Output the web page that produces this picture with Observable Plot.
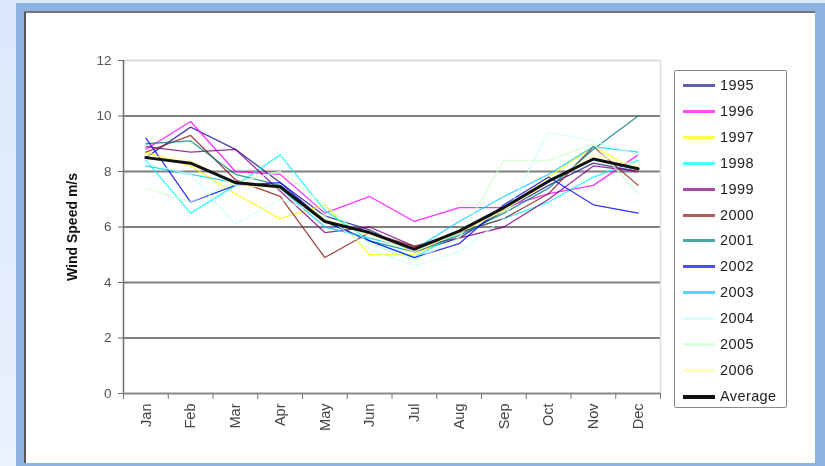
<!DOCTYPE html>
<html>
<head>
<meta charset="utf-8">
<script src="https://cdn.jsdelivr.net/npm/d3@7"></script>
<script src="https://cdn.jsdelivr.net/npm/@observablehq/plot@0.6"></script>
<style>
  html, body { margin: 0; padding: 0; }
  body { width: 825px; height: 466px; overflow: hidden; position: relative;
         background: linear-gradient(#dbe7fb, #e9f2fd); font-family: "Liberation Sans", Arial, sans-serif; }
  #frame { position: absolute; left: 16px; top: 3px; width: 809px; height: 463px; background: #8db3e2; }
  #card { position: absolute; left: 24px; top: 11px; width: 791px; height: 452px; background: #fff;
          border-left: 2px solid #555; border-top: 2px solid #777; box-sizing: border-box; }
  #chart { position: absolute; left: 24px; top: 11px; filter: blur(0.35px); }
  #legend { position: absolute; left: 674px; top: 70px; width: 113px; height: 338px; filter: blur(0.3px);
            border: 1px solid #8a8a8a; border-radius: 2px; box-sizing: border-box; background: #fff; }
  .item { position: absolute; left: 0; height: 16px; width: 112px; }
  .sw { position: absolute; left: 8px; top: 7px; width: 32px; height: 3px; }
  .lb { position: absolute; left: 45px; top: 0; font-size: 14.5px; line-height: 16px; color: #222; letter-spacing: 0.4px; }
</style>
</head>
<body>
<div id="frame"></div>
<div id="card"></div>
<div id="chart"></div>
<div id="legend"></div>
<script>
const months = ["Jan","Feb","Mar","Apr","May","Jun","Jul","Aug","Sep","Oct","Nov","Dec"];
const yTicks = [0, 2, 4, 6, 8, 10, 12];
const years = ["1995","1996","1997","1998","1999","2000","2001","2002","2003","2004","2005","2006"];
const colors = ["#1a1a8c","#ff00ff","#ffff00","#00ffff","#800080","#8c1a1a","#008080","#0000ff","#00ccff","#ccffff","#ccffcc","#ffff99"];

const s1995 = [8.5, 9.6, 8.8, 7.6, 6.4, 5.9, 5.1, 5.6, 6.6, 7.5, 8.3, 8.0];
const s1996 = [8.8, 9.8, 8.0, 7.9, 6.5, 7.1, 6.2, 6.7, 6.7, 7.2, 7.5, 8.6];
const s1997 = [8.7, 8.2, 7.2, 6.3, 6.8, 5.0, 5.0, 5.8, 6.6, 7.8, 8.9, 8.0];
const s1998 = [8.4, 6.5, 7.5, 8.6, 6.6, 5.5, 4.9, 5.8, 6.3, 6.9, 7.8, 8.4];
const s1999 = [8.9, 8.7, 8.8, 7.3, 5.8, 6.0, 5.3, 5.6, 6.0, 7.0, 8.2, 8.0];
const s2000 = [8.7, 9.3, 7.7, 7.1, 4.9, 5.8, 5.3, 5.8, 6.3, 7.2, 8.9, 7.5];
const s2001 = [9.0, 9.1, 7.9, 7.5, 6.2, 5.5, 5.1, 5.7, 6.5, 7.4, 8.8, 10.0];
const s2002 = [9.2, 6.9, 7.5, 7.6, 6.2, 5.5, 4.9, 5.4, 6.8, 7.8, 6.8, 6.5];
const s2003 = [8.2, 7.9, 7.6, 7.4, 6.0, 5.6, 5.2, 6.2, 7.1, 7.9, 8.9, 8.7];
const s2004 = [8.3, 7.9, 6.1, 7.0, 6.4, 5.2, 4.6, 5.1, 6.3, 9.4, 9.1, 8.6];
const s2005 = [7.4, 6.9, 7.6, 8.0, 6.8, 5.4, 4.8, 5.6, 8.4, 8.4, 9.0, 7.2];
const s2006 = [8.6, 8.4, 7.5, 7.4, 6.3, 5.7, 5.1, 5.8, 6.6, 7.6, 8.6, 8.2];
const average = [8.5, 8.3, 7.6, 7.45, 6.2, 5.8, 5.2, 5.85, 6.7, 7.65, 8.45, 8.1];

const seriesValues = [s1995, s1996, s1997, s1998, s1999, s2000, s2001, s2002, s2003, s2004, s2005, s2006];

const rows = [];
seriesValues.forEach((vals, k) => vals.forEach((v, i) => rows.push({year: years[k], i, month: months[i], v})));
const avgRows = average.map((v, i) => ({i, month: months[i], v}));

const chart = Plot.plot({
  width: 791,
  height: 452,
  marginLeft: 99,
  marginRight: 155,
  marginTop: 49,
  marginBottom: 70,
  style: {background: "transparent", fontFamily: "'Liberation Sans', Arial, sans-serif"},
  x: {type: "linear", domain: [0, 12]},
  y: {domain: [0, 12]},
  color: {domain: years, range: colors},
  marks: [
    Plot.ruleY([12], {stroke: "#d4d4d4", strokeWidth: 1.5}),
    Plot.ruleY([2, 4, 6, 8, 10], {stroke: "#7f7f7f", strokeWidth: 2}),
    Plot.ruleX([12], {stroke: "#dddddd", strokeWidth: 1.5}),
    Plot.ruleX([0], {stroke: "#6e6e6e", strokeWidth: 1.5}),
    Plot.ruleY([0], {stroke: "#8a8a8a", strokeWidth: 2}),
    Plot.axisY(yTicks, {tickSize: 5, tickPadding: 7, fontSize: 13.5, fill: "#555", stroke: "#6e6e6e", label: null}),
    Plot.axisX(d3.range(13), {tickSize: 6, tickFormat: () => "", stroke: "#777", label: null}),
    Plot.axisX(months.map((m, i) => i + 0.5), {tickSize: 0, tickPadding: 10, tickRotate: -90,
      tickFormat: d => months[Math.floor(d)], fontSize: 14.5, fill: "#444", label: null}),
    Plot.text(["Wind Speed m/s"], {frameAnchor: "left", textAnchor: "middle", rotate: -90, dx: -51, fontSize: 14,
      fontWeight: "bold", fill: "#111"}),
    Plot.line(rows, {x: d => d.i + 0.5, y: "v", z: "year", stroke: "year", strokeWidth: 1.3, strokeOpacity: 0.8}),
    Plot.line(avgRows, {x: d => d.i + 0.5, y: "v", stroke: "#111", strokeWidth: 3})
  ]
});
document.getElementById("chart").appendChild(chart);

const legend = document.getElementById("legend");
const entries = years.map((y, k) => ({label: y, color: colors[k], h: 3})).concat([{label: "Average", color: "#111", h: 4}]);
entries.forEach((e, k) => {
  const it = document.createElement("div");
  it.className = "item";
  it.style.top = (6 + k * 25.9) + "px";
  const sw = document.createElement("div");
  sw.className = "sw";
  sw.style.background = e.color;
  sw.style.height = e.h + "px";
  sw.style.opacity = e.label === "Average" ? 1 : 0.7;
  const lb = document.createElement("div");
  lb.className = "lb";
  lb.textContent = e.label;
  it.appendChild(sw); it.appendChild(lb);
  legend.appendChild(it);
});
</script>
</body>
</html>
